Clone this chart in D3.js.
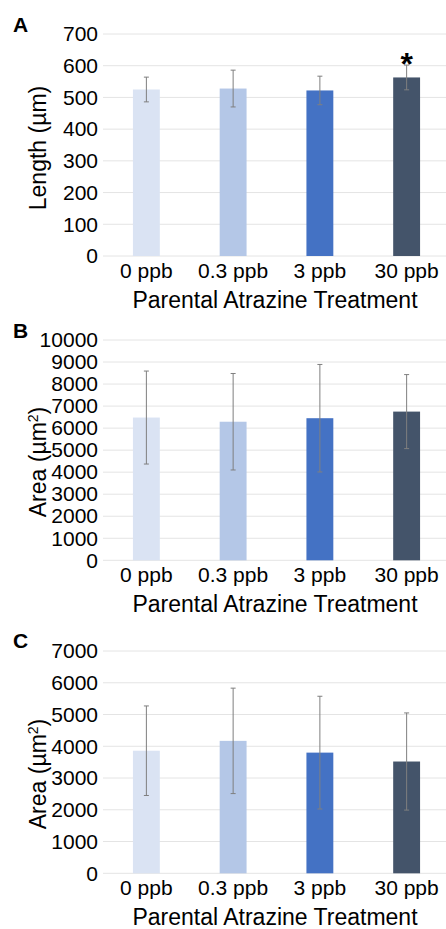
<!DOCTYPE html>
<html>
<head>
<meta charset="utf-8">
<script src="https://cdn.jsdelivr.net/npm/d3@7"></script>
<style>
  body { margin: 0; background: #fff; }
  text { font-family: "Liberation Sans", Arial, sans-serif; fill: #000; }
</style>
</head>
<body>
<script>
var categories = ["0 ppb", "0.3 ppb", "3 ppb", "30 ppb"];
var colors = ["#dae3f3", "#b4c7e7", "#4472c4", "#44546a"];

var lengthMean = [525, 528, 522, 563];
var lengthErr = [39, 58, 45, 39];

var areaBMean = [6480, 6290, 6450, 6750];
var areaBErr = [2110, 2190, 2440, 1680];

var areaCMean = [3860, 4170, 3800, 3520];
var areaCErr = [1410, 1660, 1775, 1530];

var xTitle = "Parental Atrazine Treatment";

var w = 446, h = 929;
var left = 103, right = 450;

var svg = d3.select("body")
	.append("svg")
	.attr("width", w)
	.attr("height", h);

var x = d3.scaleBand()
	.domain(categories)
	.range([left, right])
	.padding(0);
var barW = x.bandwidth() * 0.31;

function panel(label, labelY, top, bottom, maxV, step, means, errs, yLabel, titleY, star) {
	var y = d3.scaleLinear().domain([0, maxV]).range([bottom, top]);
	var g = svg.append("g");

	// gridlines
	g.selectAll(".grid")
		.data(d3.range(0, maxV + 1, step))
		.enter().append("line")
		.attr("x1", left).attr("x2", w)
		.attr("y1", function(d) { return y(d); })
		.attr("y2", function(d) { return y(d); })
		.attr("stroke", "#e4e4e4")
		.attr("stroke-width", 1);

	// y axis labels
	var ax = d3.axisLeft(y)
		.tickValues(d3.range(0, maxV + 1, step))
		.tickFormat(d3.format("d"))
		.tickSize(0);
	var axG = g.append("g").attr("transform", "translate(" + left + ",0)").call(ax);
	axG.select(".domain").remove();
	axG.selectAll("text")
		.attr("x", -5)
		.style("font-family", "Liberation Sans, Arial, sans-serif")
		.style("font-size", "21px")
		.attr("fill", "#000");

	// bars
	g.selectAll(".bar")
		.data(means)
		.enter().append("rect")
		.attr("x", function(d, i) { return x(categories[i]) + (x.bandwidth() - barW) / 2; })
		.attr("y", function(d) { return y(d); })
		.attr("width", barW)
		.attr("height", function(d) { return y(0) - y(d); })
		.attr("fill", function(d, i) { return colors[i]; });

	// error bars
	var eg = g.selectAll(".err")
		.data(means)
		.enter().append("g");
	eg.append("line")
		.attr("x1", function(d, i) { return x(categories[i]) + x.bandwidth() / 2; })
		.attr("x2", function(d, i) { return x(categories[i]) + x.bandwidth() / 2; })
		.attr("y1", function(d, i) { return y(d + errs[i]); })
		.attr("y2", function(d, i) { return y(d - errs[i]); })
		.attr("stroke", "#7f7f7f").attr("stroke-width", 1);
	[1, -1].forEach(function(s) {
		eg.append("line")
			.attr("x1", function(d, i) { return x(categories[i]) + x.bandwidth() / 2 - 2.5; })
			.attr("x2", function(d, i) { return x(categories[i]) + x.bandwidth() / 2 + 2.5; })
			.attr("y1", function(d, i) { return y(d + s * errs[i]); })
			.attr("y2", function(d, i) { return y(d + s * errs[i]); })
			.attr("stroke", "#7f7f7f").attr("stroke-width", 1);
	});

	if (star != null) {
		g.append("text")
			.attr("x", x(categories[star]) + x.bandwidth() / 2)
			.attr("y", y(means[star] + errs[star]) + 10)
			.attr("text-anchor", "middle")
			.style("font-size", "32px")
			.style("font-weight", "bold")
			.text("*");
	}

	// x labels
	g.selectAll(".xl")
		.data(categories)
		.enter().append("text")
		.attr("x", function(d) { return x(d) + x.bandwidth() / 2; })
		.attr("y", bottom + 22)
		.attr("text-anchor", "middle")
		.style("font-size", "21px")
		.text(function(d) { return d; });

	g.append("text")
		.attr("x", 275)
		.attr("y", bottom + 52)
		.attr("text-anchor", "middle")
		.style("font-size", "23px")
		.text(xTitle);

	// y title
	var yt = g.append("text")
		.attr("transform", "translate(46," + titleY + ") rotate(-90)")
		.attr("text-anchor", "middle")
		.style("font-size", "23px");
	if (yLabel == "len") {
		yt.text("Length (µm)");
	} else {
		yt.append("tspan").text("Area (µm");
		yt.append("tspan").attr("baseline-shift", "super").style("font-size", "14px").text("2");
		yt.append("tspan").text(")");
	}

	g.append("text")
		.attr("x", 13)
		.attr("y", labelY)
		.style("font-size", "21px")
		.style("font-weight", "bold")
		.text(label);
}

panel("A", 32, 34, 256, 700, 100, lengthMean, lengthErr, "len", 148, 3);
panel("B", 338, 340, 560.3, 10000, 1000, areaBMean, areaBErr, "area", 462, null);
panel("C", 648, 651, 873.3, 7000, 1000, areaCMean, areaCErr, "area", 774, null);
</script>
</body>
</html>
